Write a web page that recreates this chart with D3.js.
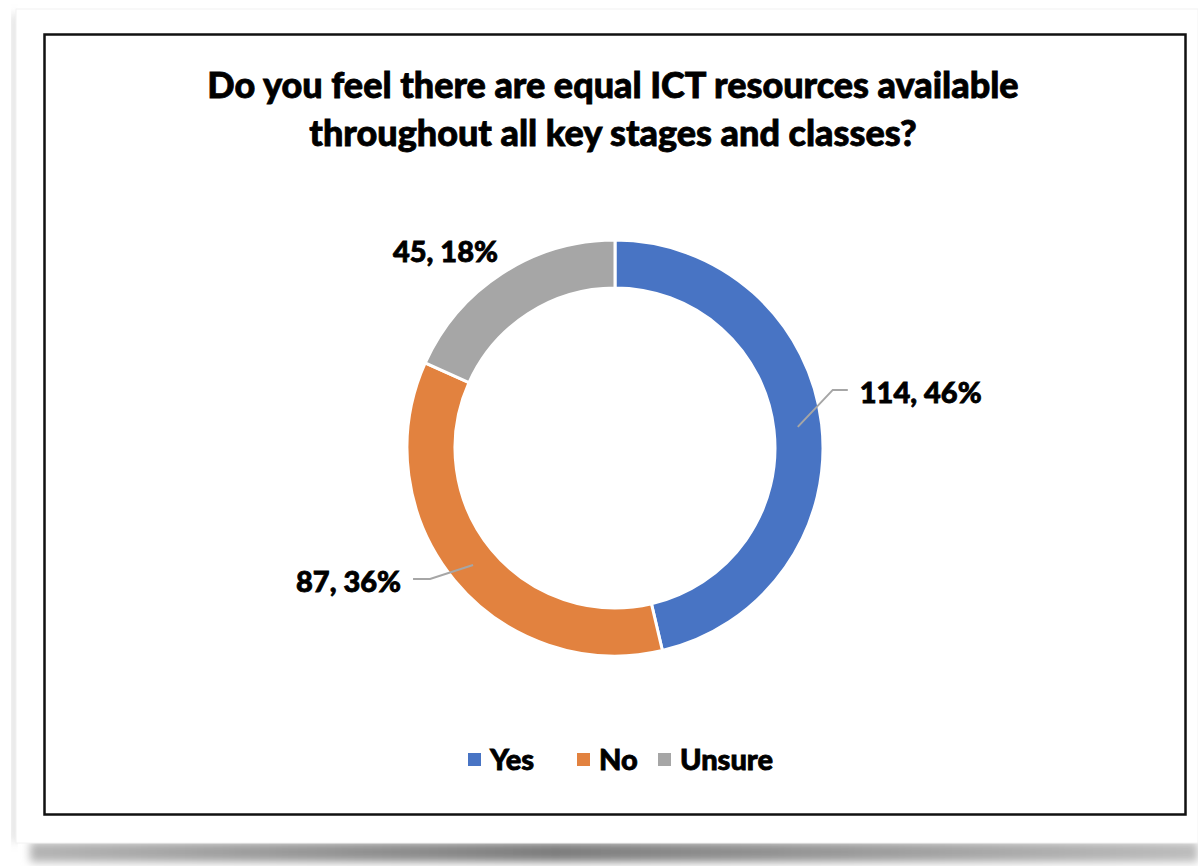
<!DOCTYPE html>
<html>
<head>
<meta charset="utf-8">
<script src="https://cdn.jsdelivr.net/npm/d3@7"></script>
<style>
body{margin:0;background:#fff;}
text{font-family:Lato,"Open Sans",sans-serif;font-weight:900;fill:#000;stroke:#000;stroke-width:0.8px;}
</style>
</head>
<body>
<div id="chart"></div>
<script>
// data
var categories = ["Yes", "No", "Unsure"];
var counts = [114, 87, 45];
var percents = [46, 36, 18];
var colors = ["#4874C4", "#E2823F", "#A6A6A6"];
var titleLines = ["Do you feel there are equal ICT resources available",
                  "throughout all key stages and classes?"];

var W = 1198, H = 866;
var cx = 615, cy = 448, rOut = 208, rIn = 160;

var svg = d3.select("#chart").append("svg")
    .attr("width", W)
    .attr("height", H);

var defs = svg.append("defs");
var blur = defs.append("filter").attr("id", "blur")
    .attr("x", "-5%").attr("y", "-50%").attr("width", "110%").attr("height", "200%");
blur.append("feGaussianBlur").attr("stdDeviation", 4);

var grad = defs.append("linearGradient").attr("id", "shade");
grad.append("stop").attr("offset", "0%").attr("stop-color", "#b5b5b5");
grad.append("stop").attr("offset", "45%").attr("stop-color", "#7d7d7d");
grad.append("stop").attr("offset", "100%").attr("stop-color", "#bdbdbd");

//-------card with shadow
svg.append("rect")
    .attr("x", 30).attr("y", 842).attr("width", 1168).attr("height", 20)
    .style("fill", "url(#shade)")
    .attr("filter", "url(#blur)");
svg.append("rect")
    .attr("x", 12).attr("y", 14).attr("width", 5).attr("height", 828)
    .style("fill", "#d0d0d0")
    .attr("filter", "url(#blur)");
svg.append("rect")
    .attr("x", 16).attr("y", 9).attr("width", 1182).attr("height", 834)
    .style("fill", "#fff")
    .style("stroke", "#f2f2f2");

// chart border
svg.append("rect")
    .attr("x", 44.5).attr("y", 34.5).attr("width", 1141).attr("height", 780)
    .style("fill", "#fff")
    .style("stroke", "#111")
    .style("stroke-width", 2.5);

//-------title
svg.append("g").selectAll("text")
    .data(titleLines)
    .join("text")
    .attr("x", 613)
    .attr("y", function(d, i){ return 98 + i * 48; })
    .attr("text-anchor", "middle")
    .style("font-size", "36px")
    .text(function(d){ return d; });

//-------donut
var pie = d3.pie().sort(null).value(function(d){ return d; });
var arcs = pie(counts);
var arc = d3.arc().innerRadius(rIn).outerRadius(rOut);
var mid = d3.arc().innerRadius(184).outerRadius(184);

var g = svg.append("g").attr("transform", "translate(" + cx + "," + cy + ")");

g.selectAll("path")
    .data(arcs)
    .join("path")
    .attr("d", arc)
    .style("fill", function(d, i){ return colors[i]; })
    .style("stroke", "#fff")
    .style("stroke-width", 3);

// label placement relative to the slice centroid: elbow, line end, text anchor
var labelLayout = [
    {elbow: [35, -37], end: [50, -37], text: [62, -24], anchor: "start", line: true},
    {elbow: [-43, 14], end: [-60, 14], text: [-72, 27], anchor: "end", line: true},
    {elbow: [0, 0], end: [0, 0], text: [-17, -32], anchor: "end", line: false}
];

arcs.forEach(function(d, i){
    var c = mid.centroid(d);
    var L = labelLayout[i];
    if(L.line){
        g.append("polyline")
            .attr("points", [c, [c[0] + L.elbow[0], c[1] + L.elbow[1]], [c[0] + L.end[0], c[1] + L.end[1]]].join(" "))
            .style("fill", "none")
            .style("stroke", "#A6A6A6")
            .style("stroke-width", 2);
    }
    g.append("text")
        .attr("x", c[0] + L.text[0])
        .attr("y", c[1] + L.text[1])
        .attr("text-anchor", L.anchor)
        .style("font-size", "29px")
        .text(counts[i] + ", " + percents[i] + "%");
});

//-------legend
var legendX = [468, 577, 658];
var legend = svg.append("g");
categories.forEach(function(name, i){
    legend.append("rect")
        .attr("x", legendX[i]).attr("y", 753)
        .attr("width", 13).attr("height", 13)
        .style("fill", colors[i]);
    legend.append("text")
        .attr("x", legendX[i] + 22)
        .attr("y", 770)
        .style("font-size", "29px")
        .text(name);
});
</script>
</body>
</html>
